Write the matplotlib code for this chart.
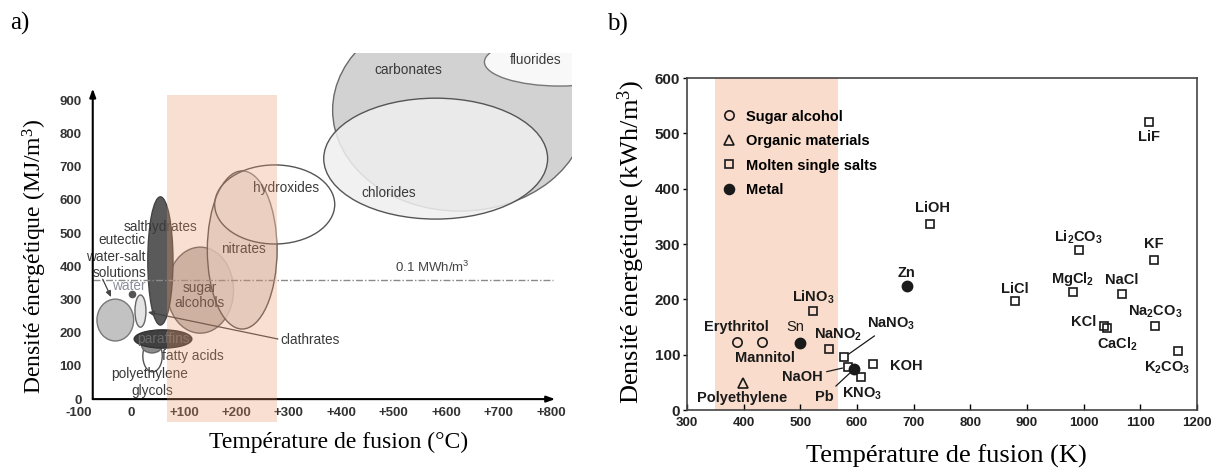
import matplotlib
matplotlib.use('Agg')
import matplotlib.pyplot as plt
from matplotlib.patches import Ellipse, Rectangle
from matplotlib.lines import Line2D

plt.rcParams['mathtext.default'] = 'regular'
SANS = 'Liberation Sans'
SERIF = 'Liberation Serif'

# ---- panel a : PCM families (melting temperature in degC, energy density in MJ/m3)
fam_names = ['carbonates', 'chlorides', 'fluorides', 'eutectic', 'clathrates',
             'polyethylene glycols', 'fatty acids', 'paraffins', 'sugar alcohols',
             'salthydrates', 'nitrates', 'hydroxides']
fam_T = [626, 580, 816, -31, 17, 40, 39, 60, 131, 55, 211, 273]
fam_E = [870, 724, 1015, 238, 265, 130, 163, 181, 328, 416, 449, 586]
fam_dT = [485, 427, 286, 70, 21, 37, 40, 110, 127, 48, 133, 229]
fam_dE = [608, 364, 145, 126, 97, 96, 48, 55, 259, 386, 476, 238]
water_T, water_E = 0, 316
limit_E = 360          # 0.1 MWh/m3
band_a = (67, 277)     # highlighted temperature window

xticks_a = [-100, 0, 100, 200, 300, 400, 500, 600, 700, 800]
xlabels_a = ['-100', '0', '+100', '+200', '+300', '+400', '+500', '+600', '+700', '+800']
yticks_a = [0, 100, 200, 300, 400, 500, 600, 700, 800, 900]

# ---- panel b : single materials (melting temperature in K, energy density in kWh/m3)
sugar_names = ['Erythritol', 'Mannitol']
sugar_T = [388, 433]
sugar_E = [122, 122]
organic_names = ['Polyethylene']
organic_T = [398]
organic_E = [48]
metal_names = ['Sn', 'Pb', 'Zn']
metal_T = [500, 595, 689]
metal_E = [121, 74, 224]
salt_names = ['LiNO$_3$', 'NaNO$_2$', 'NaNO$_3$', 'NaOH', 'KNO$_3$', 'KOH', 'LiOH',
              'LiCl', 'MgCl$_2$', 'Li$_2$CO$_3$', 'NaCl', 'KCl', 'CaCl$_2$', 'KF',
              'LiF', 'Na$_2$CO$_3$', 'K$_2$CO$_3$']
salt_T = [522, 550, 577, 584, 607, 628, 729, 878, 981, 991, 1067, 1035, 1042, 1124,
          1116, 1125, 1167]
salt_E = [179, 110, 95, 78, 60, 84, 336, 197, 213, 289, 210, 152, 148, 271, 521,
          152, 107]
band_b = (350, 567)

fig = plt.figure(figsize=(12.18, 4.71), dpi=100)

# ================= panel a =================
ax = fig.add_axes([55/1218, 41/471, 517/1218, 377/471])
ax.set_xlim(-146, 840)
ax.set_ylim(-93, 1042)

face = ['#d2d2d2', '#efefef', '#f8f8f8', '#c2c2c2', '#e4e4e4', 'white',
        '#8c8c8c', '#404040', '#b9b3b0', '#5a5a5a', '#dedad8', 'white']
edge = ['#6a6a6a', '#555555', '#777777', '#777777', '#666666', '#555555',
        '#666666', '#333333', '#666666', '#444444', '#555555', '#555555']
alph = [1, 0.85, 1, 1, 1, 1, 1, 1, 0.85, 1, 0.8, 0.3]
for i in range(len(fam_names)):
    ax.add_patch(Ellipse((fam_T[i], fam_E[i]), fam_dT[i], fam_dE[i],
                         facecolor=face[i], edgecolor='none', alpha=alph[i]))
    ax.add_patch(Ellipse((fam_T[i], fam_E[i]), fam_dT[i], fam_dE[i],
                         facecolor='none', edgecolor=edge[i], lw=1.0))
ax.plot([water_T], [water_E], 'o', color='#555555', ms=4.5)

# 0.1 MWh/m3 line
ax.plot([-74, 804], [limit_E, limit_E], color='#8a8a8a', lw=1.0,
        ls=(0, (5, 1.5, 1, 1.5)))
ax.text(574, 398, '0.1 MWh/m$^3$', ha='center', va='center', fontsize=9.5,
        family=SANS, color='#444444')

lab = dict(family=SANS, fontsize=9.8, color='#3a3a3a', ha='center', va='center')
ax.text(527, 991, 'carbonates', **lab)
ax.text(771, 1021, 'fluorides', **lab)
ax.text(491, 620, 'chlorides', **lab)
ax.text(294, 636, 'hydroxides', **lab)
ax.text(214, 452, 'nitrates', **lab)
ax.text(130, 313, 'sugar\nalcohols', linespacing=1.1, **lab)
ax.text(56, 518, 'salthydrates', **lab)
ax.text(-19, 479, 'eutectic', **lab)
ax.text(-30, 428, 'water-salt', **lab)
ax.text(-22, 379, 'solutions', **lab)
ax.text(-5, 340, 'water', **dict(lab, color='#8a8e9a'))
ax.text(283, 178, 'clathrates', **dict(lab, ha='left'))
ax.text(60, 181, 'paraffins', **dict(lab, color='#6a6a6a'))
ax.text(117, 130, 'fatty acids', **lab)
ax.text(35, 75, 'polyethylene', **lab)
ax.text(39, 24, 'glycols', **lab)

ax.annotate('', xy=(-39, 307), xytext=(-55, 361),
            arrowprops=dict(arrowstyle='-|>,head_length=0.35,head_width=0.15',
                            color='#444444', lw=0.9, shrinkA=0, shrinkB=0))
ax.annotate('', xy=(31, 262), xytext=(279, 181),
            arrowprops=dict(arrowstyle='-|>,head_length=0.35,head_width=0.15',
                            color='#444444', lw=0.9, shrinkA=0, shrinkB=0))

# temperature window overlay
ax.add_patch(Rectangle((band_a[0], -70), band_a[1] - band_a[0], 985,
                       facecolor=(235/255, 150/255, 105/255), alpha=0.3,
                       edgecolor='none', zorder=5))

for s in ax.spines.values():
    s.set_visible(False)
ax.spines['left'].set_position(('data', -74))
ax.spines['bottom'].set_position(('data', 0))
ax.annotate('', xy=(-74, 935), xytext=(-74, 0),
            arrowprops=dict(arrowstyle='-|>,head_length=0.5,head_width=0.18',
                            color='black', lw=1.5, shrinkA=0, shrinkB=0))
ax.annotate('', xy=(808, 0), xytext=(-74, 0),
            arrowprops=dict(arrowstyle='-|>,head_length=0.5,head_width=0.18',
                            color='black', lw=1.5, shrinkA=0, shrinkB=0))
ax.set_xticks(xticks_a)
ax.set_xticklabels(xlabels_a)
ax.set_yticks(yticks_a)
ax.tick_params(length=0, labelsize=9.5, labelcolor='#333333')
ax.tick_params(axis='x', pad=6)
ax.tick_params(axis='y', pad=8)
for t in ax.get_xticklabels() + ax.get_yticklabels():
    t.set_family(SANS)
    t.set_weight('bold')
ax.set_xlabel('Température de fusion (°C)', family=SERIF, fontsize=17)
ax.set_ylabel('Densité énergétique (MJ/m$^3$)', family=SERIF, fontsize=17)
ax.xaxis.set_label_coords(0.548, -0.005)
ax.yaxis.set_label_coords(-0.011, 0.46)

# ================= panel b =================
bx = fig.add_axes([687/1218, 61/471, 510/1218, 332/471])
bx.set_xlim(300, 1200)
bx.set_ylim(0, 600)
bx.axvspan(band_b[0], band_b[1], color='#f9dccc', lw=0, zorder=0)

mk = dict(ls='none', mec='#1a1a1a', mew=1.2, zorder=3)
bx.plot(sugar_T, sugar_E, marker='o', ms=6.7, mfc='none', **mk)
bx.plot(organic_T, organic_E, marker='^', ms=6.5, mfc='none', **mk)
bx.plot(salt_T, salt_E, marker='s', ms=6, mfc='none', **mk)
bx.plot(metal_T, metal_E, marker='o', ms=7.3, mfc='#1a1a1a', **mk)

# label offsets (points) relative to each marker
offs = {
    'Erythritol': (0, 11), 'Mannitol': (2, -11.5), 'Polyethylene': (0, -10.5),
    'Sn': (-3.5, 11.5), 'Pb': (-21.5, -20), 'Zn': (-1, 9.5),
    'LiNO$_3$': (0, 10), 'NaNO$_2$': (7, 10), 'NaNO$_3$': (34, 24),
    'NaOH': (-33, -7.5), 'KNO$_3$': (0.5, -12), 'KOH': (24, -2),
    'LiOH': (1.5, 11.5), 'LiCl': (0, 8.5), 'MgCl$_2$': (0, 9.5),
    'Li$_2$CO$_3$': (0, 9.5), 'NaCl': (0, 10), 'KCl': (-14.5, 3),
    'CaCl$_2$': (7, -12), 'KF': (0, 11.5), 'LiF': (0, -11),
    'Na$_2$CO$_3$': (0.5, 10), 'K$_2$CO$_3$': (-8, -12),
}
leader = ['NaNO$_3$', 'NaOH', 'Pb']
all_names = sugar_names + organic_names + metal_names + salt_names
all_T = sugar_T + organic_T + metal_T + salt_T
all_E = sugar_E + organic_E + metal_E + salt_E
for n, t, e in zip(all_names, all_T, all_E):
    kw = dict(textcoords='offset points', ha='center', va='center',
              fontsize=10.5, family=SANS, color='#1a1a1a',
              fontweight='normal' if n == 'Sn' else 'bold', zorder=4)
    if n in leader:
        kw['arrowprops'] = dict(arrowstyle='-', color='#1a1a1a', lw=0.9,
                                shrinkA=1, shrinkB=4)
    bx.annotate(n, xy=(t, e), xytext=offs[n], **kw)

handles = [
    Line2D([], [], marker='o', ms=6.7, mfc='none', mec='#1a1a1a', mew=1.2, ls='none'),
    Line2D([], [], marker='^', ms=6.5, mfc='none', mec='#1a1a1a', mew=1.2, ls='none'),
    Line2D([], [], marker='s', ms=6, mfc='none', mec='#1a1a1a', mew=1.2, ls='none'),
    Line2D([], [], marker='o', ms=7.3, mfc='#1a1a1a', mec='#1a1a1a', ls='none'),
]
bx.legend(handles, ['Sugar alcohol', 'Organic materials', 'Molten single salts', 'Metal'],
          loc='upper left', bbox_to_anchor=(0.068, 0.905), frameon=False,
          borderpad=0, borderaxespad=0, handlelength=1.0, handletextpad=0.7,
          labelspacing=0.72, prop=dict(family=SANS, weight='bold', size=10.5))

for s in bx.spines.values():
    s.set_color('#444444')
    s.set_linewidth(1.2)
bx.set_xticks(range(300, 1201, 100))
bx.set_yticks(range(0, 601, 100))
bx.tick_params(axis='x', direction='in', length=4, width=1, labelsize=9.5, pad=5)
bx.tick_params(axis='y', direction='out', length=3, width=1, labelsize=11, pad=2)
for t in bx.get_xticklabels() + bx.get_yticklabels():
    t.set_family(SANS)
    t.set_weight('bold')
    t.set_color('#222222')
bx.set_xlabel('Température de fusion (K)', family=SERIF, fontsize=19)
bx.set_ylabel('Densité énergétique (kWh/m$^3$)', family=SERIF, fontsize=19)
bx.xaxis.set_label_coords(0.508, -0.105)
bx.yaxis.set_label_coords(-0.078, 0.506)

fig.text(10/1218, 1 - 23/471, 'a)', family=SERIF, fontsize=18, va='center')
fig.text(607/1218, 1 - 24/471, 'b)', family=SERIF, fontsize=18, va='center')

fig.savefig('out.png', dpi=100)
